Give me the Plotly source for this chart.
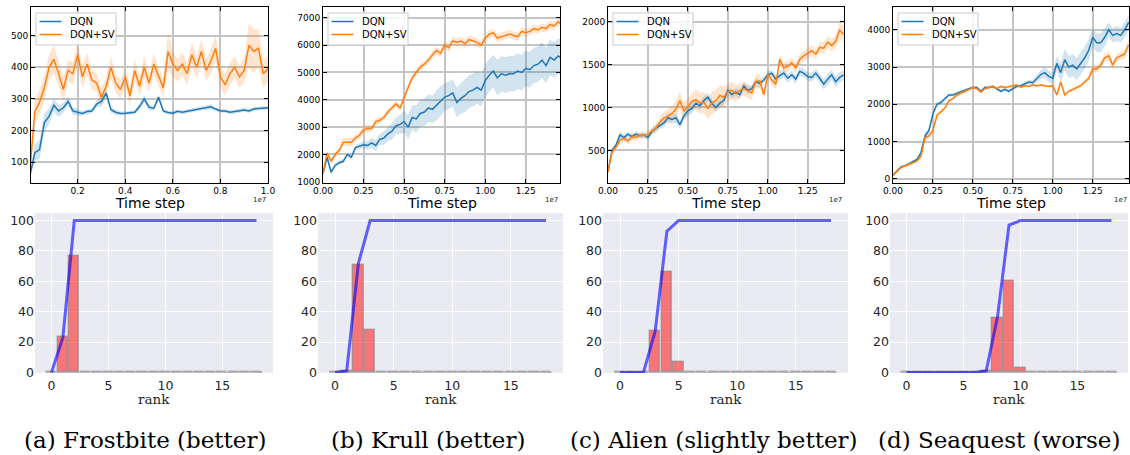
import numpy as np
import plotly.graph_objects as go

W, H = 1130, 455

# ---------------- data ----------------
# time steps (in units of 1e7)
T_A = [0.00, 0.02, 0.04, 0.06, 0.08, 0.10, 0.12, 0.14, 0.16, 0.18,
       0.20, 0.22, 0.24, 0.26, 0.28, 0.30, 0.32, 0.34, 0.36, 0.38,
       0.40, 0.42, 0.44, 0.46, 0.48, 0.50, 0.52, 0.54, 0.56, 0.58,
       0.60, 0.62, 0.64, 0.66, 0.68, 0.70, 0.72, 0.74, 0.76, 0.78,
       0.80, 0.82, 0.84, 0.86, 0.88, 0.90, 0.92, 0.94, 0.96, 0.98, 1.00]
T_BCD = [0.000, 0.025, 0.050, 0.075, 0.100, 0.125, 0.150, 0.175, 0.200, 0.225,
         0.250, 0.275, 0.300, 0.325, 0.350, 0.375, 0.400, 0.425, 0.450, 0.475,
         0.500, 0.525, 0.550, 0.575, 0.600, 0.625, 0.650, 0.675, 0.700, 0.725,
         0.750, 0.775, 0.800, 0.825, 0.850, 0.875, 0.900, 0.925, 0.950, 0.975,
         1.000, 1.025, 1.050, 1.075, 1.100, 1.125, 1.150, 1.175, 1.200, 1.225,
         1.250, 1.275, 1.300, 1.325, 1.350, 1.375, 1.400, 1.425, 1.450, 1.475]

# (a) Frostbite
A_DQN = [60, 130, 140, 225, 245, 280, 262, 272, 292, 262,
         258, 254, 260, 262, 284, 292, 318, 266, 258, 254,
         255, 257, 258, 276, 300, 274, 270, 305, 262, 257,
         255, 261, 258, 261, 264, 267, 270, 272, 275, 268,
         262, 262, 258, 260, 262, 265, 262, 268, 270, 272, 272]
A_DQN_SD = [10, 25, 30, 30, 25, 20, 20, 15, 15, 12,
            10, 8, 8, 8, 12, 15, 15, 10, 8, 6,
            6, 6, 6, 10, 12, 10, 8, 10, 8, 6,
            6, 6, 6, 6, 6, 6, 6, 8, 8, 6,
            6, 6, 6, 6, 6, 6, 6, 6, 6, 6, 6]
A_SV = [80, 260, 290, 335, 400, 425, 380, 330, 390, 380,
        440, 370, 410, 360, 350, 305, 340, 400, 350, 330,
        370, 310, 390, 340, 400, 350, 410, 370, 335, 450,
        410, 390, 410, 380, 440, 400, 450, 390, 420, 460,
        370, 345, 380, 400, 370, 390, 470, 450, 460, 380, 395]
A_SV_SD = [20, 40, 40, 40, 40, 45, 40, 40, 35, 35,
           40, 35, 35, 30, 30, 30, 30, 35, 30, 30,
           30, 30, 35, 30, 35, 30, 35, 30, 30, 60,
           40, 35, 35, 35, 40, 35, 40, 35, 40, 40,
           35, 35, 35, 35, 35, 40, 70, 70, 60, 45, 40]

# (b) Krull
B_DQN = [1300, 1900, 1350, 1600, 1700, 1750, 2000, 1900, 2250, 2300,
         2350, 2330, 2420, 2330, 2550, 2600, 2750, 2850, 3050, 3100,
         3200, 3000, 3350, 3300, 3500, 3550, 3700, 3650, 3800, 3950,
         4100, 4150, 4250, 3900, 4050, 4150, 4300, 4350, 4450, 4350,
         4700, 4900, 5050, 4800, 4950, 4900, 4950, 4950, 5050, 5000,
         5150, 5100, 5250, 5300, 5450, 5250, 5550, 5450, 5600, 5500]
B_DQN_SD = [60, 80, 80, 80, 80, 80, 80, 80, 100, 120,
            120, 150, 180, 200, 200, 250, 250, 300, 300, 350,
            400, 450, 450, 500, 500, 500, 500, 500, 550, 550,
            500, 500, 500, 550, 550, 600, 600, 600, 600, 600,
            600, 600, 600, 650, 650, 650, 650, 650, 650, 650,
            650, 650, 650, 650, 650, 650, 650, 650, 650, 650]
B_SV = [1300, 2050, 1750, 2000, 2150, 2450, 2450, 2450, 2600, 2700,
        2900, 2950, 2950, 3200, 3250, 3350, 3550, 3700, 3850, 3700,
        4100, 4450, 4800, 5000, 5200, 5300, 5450, 5650, 5800, 5700,
        6000, 5900, 6150, 6100, 6150, 6050, 6200, 6150, 6100, 6000,
        6250, 6400, 6450, 6250, 6300, 6350, 6400, 6350, 6300, 6500,
        6450, 6500, 6600, 6550, 6650, 6600, 6750, 6700, 6850, 6750]
B_SV_SD = [60, 100, 100, 120, 150, 150, 150, 150, 120, 120,
           150, 150, 120, 120, 120, 100, 100, 100, 120, 120,
           120, 120, 120, 120, 120, 120, 150, 150, 150, 150,
           150, 150, 150, 150, 150, 150, 150, 150, 150, 150,
           150, 150, 150, 150, 150, 150, 150, 150, 150, 150,
           150, 150, 150, 150, 150, 150, 150, 150, 150, 150]

# (c) Alien
C_DQN = [250, 500, 560, 680, 650, 690, 660, 690, 670, 680,
         650, 720, 760, 790, 820, 880, 860, 880, 800, 900,
         960, 990, 1050, 1020, 1080, 1120, 1050, 1000, 1050, 1080,
         1200, 1150, 1180, 1150, 1250, 1200, 1220, 1300, 1280, 1320,
         1380, 1400, 1330, 1370, 1400, 1340, 1380, 1330, 1420, 1400,
         1360, 1350, 1400, 1340, 1270, 1330, 1380, 1300, 1350, 1380]
C_DQN_SD = [20, 30, 30, 40, 40, 30, 30, 30, 30, 30,
            30, 40, 40, 40, 50, 50, 50, 60, 50, 50,
            60, 60, 50, 50, 50, 50, 50, 50, 50, 50,
            50, 50, 50, 50, 50, 50, 40, 40, 40, 40,
            40, 40, 50, 50, 50, 50, 50, 50, 50, 50,
            50, 50, 50, 50, 60, 60, 60, 60, 60, 60]
C_SV = [250, 480, 540, 620, 640, 610, 660, 650, 680, 670,
        690, 730, 760, 830, 880, 900, 930, 980, 1080, 960,
        1010, 1070, 1090, 1050, 1060, 990, 1050, 1080, 1140, 1120,
        1180, 1200, 1160, 1200, 1220, 1190, 1170, 1300, 1310, 1150,
        1380, 1320, 1270, 1560, 1460, 1480, 1520, 1460, 1560, 1600,
        1630, 1660, 1620, 1700, 1690, 1760, 1720, 1770, 1900, 1850]
C_SV_SD = [30, 40, 40, 40, 40, 40, 40, 40, 40, 40,
           40, 40, 50, 60, 70, 80, 90, 100, 100, 100,
           100, 100, 120, 120, 120, 130, 130, 130, 120, 120,
           100, 100, 100, 80, 80, 80, 80, 80, 80, 60,
           60, 60, 60, 60, 60, 60, 60, 60, 60, 60,
           60, 60, 60, 60, 70, 70, 70, 80, 100, 100]

# (d) Seaquest
D_DQN = [100, 200, 320, 350, 400, 450, 520, 700, 1150, 1300,
         1750, 2000, 2050, 2150, 2250, 2250, 2300, 2350, 2380, 2420,
         2450, 2450, 2350, 2450, 2450, 2480, 2420, 2350, 2400, 2350,
         2420, 2480, 2500, 2550, 2600, 2580, 2700, 2800, 2850, 2750,
         2700, 3100, 2850, 3200, 3000, 3050, 2950, 3100, 3250, 3450,
         3800, 3650, 3650, 3800, 4000, 3850, 3900, 3850, 4000, 4200]
D_DQN_SD = [20, 30, 40, 40, 40, 40, 40, 60, 80, 80,
            60, 50, 50, 50, 40, 40, 40, 40, 40, 40,
            40, 40, 50, 50, 40, 40, 40, 40, 40, 40,
            40, 40, 50, 60, 60, 80, 100, 120, 150, 150,
            150, 200, 250, 300, 300, 300, 300, 300, 300, 300,
            250, 250, 250, 250, 200, 200, 200, 200, 200, 200]
D_SV = [100, 200, 300, 350, 380, 430, 480, 600, 1100, 1150,
        1300, 1700, 1800, 1900, 2100, 2150, 2250, 2300, 2350, 2400,
        2450, 2420, 2330, 2420, 2450, 2480, 2420, 2480, 2450, 2470,
        2480, 2520, 2460, 2500, 2480, 2520, 2500, 2520, 2500, 2480,
        2500, 2250, 2600, 2250, 2350, 2400, 2450, 2500, 2600, 2700,
        2950, 2950, 3050, 3250, 3300, 3050, 3250, 3300, 3350, 3600]
D_SV_SD = [20, 30, 30, 30, 30, 30, 40, 60, 80, 80,
           80, 60, 50, 40, 40, 40, 40, 40, 40, 40,
           30, 30, 40, 30, 30, 30, 30, 30, 30, 30,
           30, 30, 30, 30, 30, 30, 30, 30, 30, 30,
           40, 60, 60, 60, 50, 50, 50, 60, 60, 80,
           100, 100, 100, 120, 120, 120, 100, 100, 120, 150]

# rank histograms (percent)
RANKS = [0, 1, 2, 3, 4, 5, 6, 7, 8, 9, 10, 11, 12, 13, 14, 15, 16, 17, 18]
HIST_A = [0, 23, 77, 0, 0, 0, 0, 0, 0, 0, 0, 0, 0, 0, 0, 0, 0, 0, 0]
HIST_B = [0, 1, 71, 28, 0, 0, 0, 0, 0, 0, 0, 0, 0, 0, 0, 0, 0, 0, 0]
HIST_C = [0, 0, 0, 27, 66, 7, 0, 0, 0, 0, 0, 0, 0, 0, 0, 0, 0, 0, 0]
HIST_D = [0, 0, 0, 0, 0, 0, 0, 1, 36, 60, 3, 0, 0, 0, 0, 0, 0, 0, 0]

SERIES_NAMES = ["DQN", "DQN+SV"]
CAPTIONS = ["(a) Frostbite (better)", "(b) Krull (better)",
            "(c) Alien (slightly better)", "(d) Seaquest (worse)"]

# ---------------- layout geometry (pixels) ----------------
TOP_X = [(31, 268), (323, 560), (608, 844), (893, 1129)]
BOT_X = [(35, 273), (318, 563), (603, 848), (890, 1128)]
TOP_Y = (6.5, 182.5)
BOT_Y = (213, 373)
CAP_X = [145, 428, 714, 999]

TOP_XRANGE = [[0.004, 1.0], [0, 1.461], [0, 1.477], [0, 1.477]]
TOP_YRANGE = [[36, 592], [975, 7410], [127, 2175], [-98, 4625]]
TOP_XTICKS = [[0.2, 0.4, 0.6, 0.8, 1.0],
              [0, 0.25, 0.5, 0.75, 1.0, 1.25],
              [0, 0.25, 0.5, 0.75, 1.0, 1.25],
              [0, 0.25, 0.5, 0.75, 1.0, 1.25]]
TOP_XFMT = [".1f", ".2f", ".2f", ".2f"]
TOP_YTICKS = [[100, 200, 300, 400, 500],
              [1000, 2000, 3000, 4000, 5000, 6000, 7000],
              [500, 1000, 1500, 2000],
              [0, 1000, 2000, 3000, 4000]]

BLUE = "#1f77b4"
ORANGE = "#ff7f0e"
BLUE_F = "rgba(31,119,180,0.2)"
ORANGE_F = "rgba(255,127,14,0.2)"


def hx(a, b):
    return [a / W, b / W]


def vy(top, bottom):
    return [1 - bottom / H, 1 - top / H]


def px(xp):
    return xp / W


def py(yp):
    return 1 - yp / H


panels = [
    (T_A, A_DQN, A_DQN_SD, A_SV, A_SV_SD, HIST_A),
    (T_BCD, B_DQN, B_DQN_SD, B_SV, B_SV_SD, HIST_B),
    (T_BCD, C_DQN, C_DQN_SD, C_SV, C_SV_SD, HIST_C),
    (T_BCD, D_DQN, D_DQN_SD, D_SV, D_SV_SD, HIST_D),
]

fig = go.Figure()
layout = {}
annotations = []
shapes = []

for i, (t, dqn, dsd, sv, ssd, hist) in enumerate(panels):
    k = i + 1
    xa, ya = f"x{k}", f"y{k}"
    t = list(t)
    # bands
    for mean, sd, fc in ((dqn, dsd, BLUE_F), (sv, ssd, ORANGE_F)):
        m = np.array(mean, float)
        s = np.array(sd, float)
        up = m + s
        lo = m - s
        fig.add_trace(go.Scatter(
            x=t + t[::-1], y=list(up) + list(lo[::-1]), fill="toself",
            fillcolor=fc, line=dict(width=0), mode="lines",
            hoverinfo="skip", showlegend=False, xaxis=xa, yaxis=ya))
    for mean, col, name in ((dqn, BLUE, SERIES_NAMES[0]), (sv, ORANGE, SERIES_NAMES[1])):
        fig.add_trace(go.Scatter(
            x=t, y=mean, mode="lines", name=name,
            line=dict(color=col, width=1.5), showlegend=False,
            xaxis=xa, yaxis=ya))

    # top axes
    x0, x1 = TOP_X[i]
    common = dict(showgrid=True, gridcolor="#c4c4c4", gridwidth=1.5,
                  showline=True, linecolor="black", linewidth=1, mirror="ticks",
                  ticks="inside", ticklen=4, tickcolor="black", zeroline=False,
                  automargin=False,
                  tickfont=dict(family="DejaVu Sans", size=9, color="black"))
    layout[f"xaxis{k}"] = dict(
        domain=hx(x0, x1), anchor=ya, range=TOP_XRANGE[i],
        tickvals=TOP_XTICKS[i], tickformat=TOP_XFMT[i], **common)
    layout[f"yaxis{k}"] = dict(
        domain=vy(*TOP_Y), anchor=xa, range=TOP_YRANGE[i],
        tickvals=TOP_YTICKS[i], **common)

    # legend box (drawn in pixels relative to the panel)
    lx0, ly0 = x0 + 5, TOP_Y[0] + 6.5
    shapes.append(dict(
        type="rect", xref="paper", yref="paper",
        x0=px(lx0), x1=px(lx0 + 80), y0=py(ly0 + 32), y1=py(ly0),
        fillcolor="rgba(255,255,255,0.85)", line=dict(color="#cccccc", width=1),
        layer="above"))
    for j, (col, name) in enumerate(((BLUE, SERIES_NAMES[0]), (ORANGE, SERIES_NAMES[1]))):
        yy = ly0 + 8.5 + 13 * j
        shapes.append(dict(
            type="line", xref="paper", yref="paper",
            x0=px(lx0 + 3.5), x1=px(lx0 + 25.5), y0=py(yy), y1=py(yy),
            line=dict(color=col, width=1.5), layer="above"))
        annotations.append(dict(
            text=name, x=px(lx0 + 31.5), y=py(yy), xref="paper", yref="paper",
            xanchor="left", yanchor="middle", showarrow=False,
            font=dict(family="DejaVu Sans", size=10, color="black")))

    annotations.append(dict(
        text="Time step", x=px((x0 + x1) / 2), y=py(203), xref="paper", yref="paper",
        xanchor="center", yanchor="middle", showarrow=False,
        font=dict(family="DejaVu Sans", size=14, color="black")))
    annotations.append(dict(
        text="1e7", x=px(x1), y=py(200), xref="paper", yref="paper",
        xanchor="right", yanchor="middle", showarrow=False,
        font=dict(family="DejaVu Sans", size=7, color="#222222")))

    # bottom histogram panels
    kb = k + 4
    xb, yb = f"x{kb}", f"y{kb}"
    cum = list(np.cumsum(hist))
    fig.add_trace(go.Scatter(
        x=[RANKS[0] - 0.5, RANKS[-1] + 0.5], y=[0, 0], mode="lines",
        line=dict(color="rgba(150,150,150,0.6)", width=2),
        hoverinfo="skip", showlegend=False, xaxis=xb, yaxis=yb))
    fig.add_trace(go.Bar(
        x=RANKS, y=hist, width=0.9, marker=dict(
            color="rgba(255,0,0,0.5)", line=dict(color="rgba(128,128,128,0.55)", width=1.5)),
        showlegend=False, xaxis=xb, yaxis=yb))
    fig.add_trace(go.Scatter(
        x=RANKS, y=cum, mode="lines", line=dict(color="rgba(0,0,255,0.6)", width=3),
        showlegend=False, xaxis=xb, yaxis=yb))
    bx0, bx1 = BOT_X[i]
    bcommon = dict(showgrid=True, gridcolor="white", gridwidth=1.2,
                   showline=False, zeroline=False, ticks="", automargin=False,
                   tickfont=dict(family="DejaVu Sans", size=12.5, color="#262626"))
    layout[f"xaxis{kb}"] = dict(
        domain=hx(bx0, bx1), anchor=yb, range=[-1.45, 19.45],
        tickvals=[0, 5, 10, 15], ticklabelstandoff=3, **bcommon)
    layout[f"yaxis{kb}"] = dict(
        domain=vy(*BOT_Y), anchor=xb, range=[-0.4, 105],
        tickvals=[0, 20, 40, 60, 80, 100], **bcommon)
    shapes.append(dict(
        type="rect", xref=f"x{kb} domain", yref=f"y{kb} domain",
        x0=0, x1=1, y0=0, y1=1, fillcolor="#EAEAF2", line=dict(width=0), layer="below"))
    annotations.append(dict(
        text="rank", x=px((bx0 + bx1) / 2), y=py(399), xref="paper", yref="paper",
        xanchor="center", yanchor="middle", showarrow=False,
        font=dict(family="DejaVu Serif", size=13.5, color="#262626")))
    annotations.append(dict(
        text=CAPTIONS[i], x=px(CAP_X[i]), y=py(440), xref="paper", yref="paper",
        xanchor="center", yanchor="middle", showarrow=False,
        font=dict(family="DejaVu Serif", size=23, color="black")))

fig.update_layout(
    width=W, height=H, margin=dict(l=0, r=0, t=0, b=0, autoexpand=False),
    paper_bgcolor="white", plot_bgcolor="white", showlegend=False,
    annotations=annotations, shapes=shapes, bargap=0, **layout)

fig.write_html("out.html")
